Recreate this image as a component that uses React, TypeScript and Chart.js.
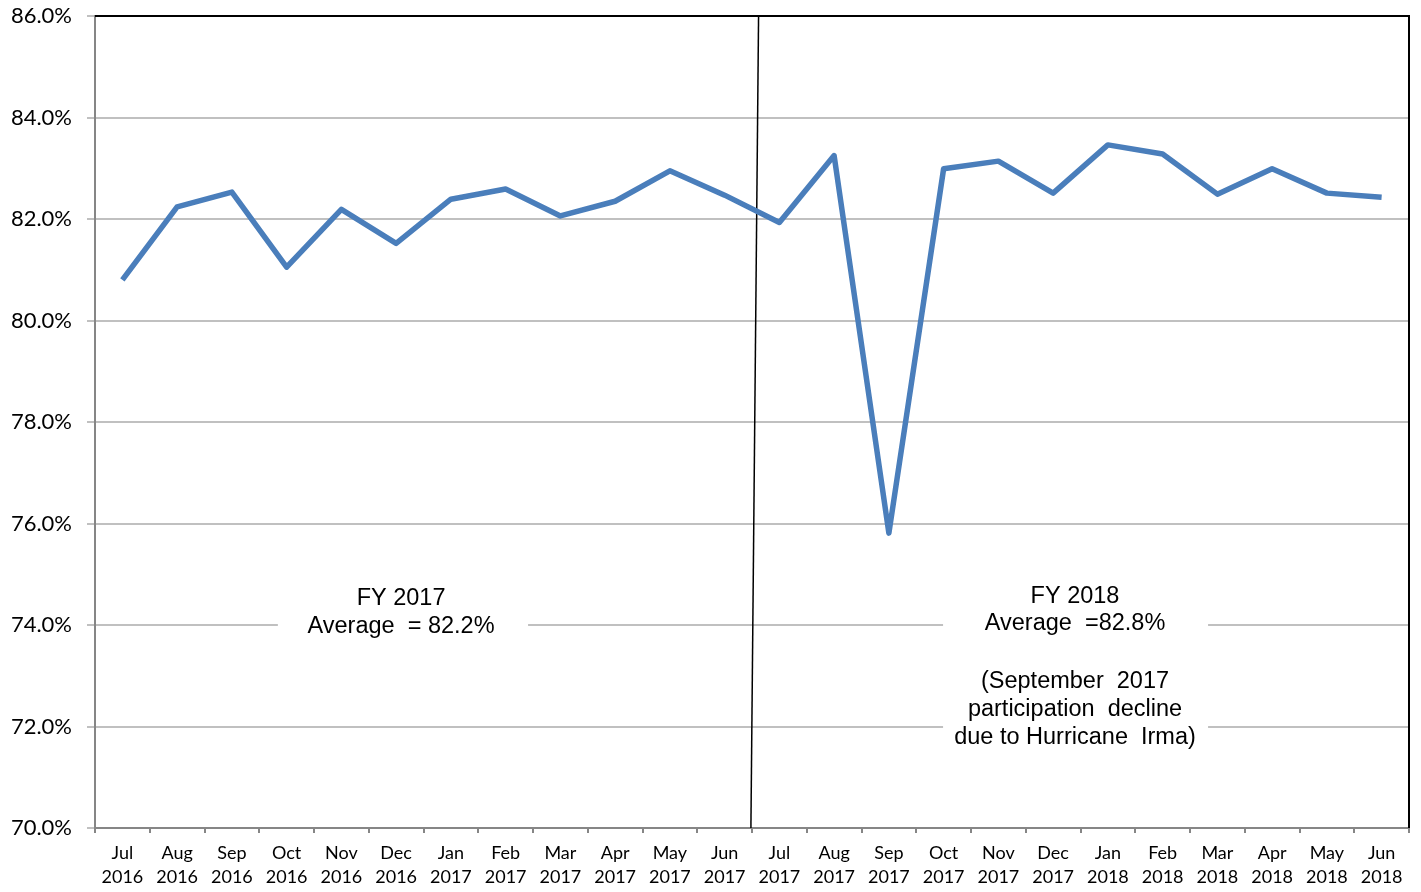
import React, { useEffect, useRef } from "react";
import { Chart, registerables } from "chart.js";

Chart.register(...registerables);

const MONTHS = ["Jul", "Aug", "Sep", "Oct", "Nov", "Dec", "Jan", "Feb", "Mar", "Apr", "May", "Jun",
  "Jul", "Aug", "Sep", "Oct", "Nov", "Dec", "Jan", "Feb", "Mar", "Apr", "May", "Jun"];
const YEARS = ["2016", "2016", "2016", "2016", "2016", "2016", "2017", "2017", "2017", "2017", "2017", "2017",
  "2017", "2017", "2017", "2017", "2017", "2017", "2018", "2018", "2018", "2018", "2018", "2018"];
const PARTICIPATION = [80.8, 82.24, 82.53, 81.05, 82.19, 81.52, 82.39, 82.59, 82.06, 82.35, 82.95, 82.47,
  81.93, 83.25, 75.81, 82.99, 83.14, 82.51, 83.46, 83.28, 82.49, 82.99, 82.51, 82.43];
const Y_MIN = 70;
const Y_MAX = 86;
const Y_STEP = 2;

const FY2017_LINES = ["FY 2017", "Average  = 82.2%"];
const FY2017_LINE_VALUES = [74.52, 73.97];
const FY2017_CENTER = 5.09;
const FY2017_BOX = { x0: 2.84, x1: 7.41, y0: 74.9, y1: 73.6 };

const FY2018_LINES = ["FY 2018", "Average  =82.8%", "", "(September  2017", "participation  decline", "due to Hurricane  Irma)"];
const FY2018_LINE_VALUES = [74.57, 74.02, 73.45, 72.88, 72.33, 71.78];
const FY2018_CENTER = 17.4;
const FY2018_BOX = { x0: 14.99, x1: 19.83, y0: 74.9, y1: 71.4 };

const DIVIDER_TOP = 11.62;
const DIVIDER_BOTTOM = 11.48;

const overlayPlugin = {
  id: "overlay",
  beforeDatasetsDraw(chart: any) {
    const { ctx, scales } = chart;
    const x = scales.x;
    const y = scales.y;
    const drawBlock = (box: any, lines: string[], vals: number[], center: number) => {
      ctx.save();
      ctx.fillStyle = "#ffffff";
      const bx0 = x.getPixelForValue(box.x0);
      const bx1 = x.getPixelForValue(box.x1);
      const by0 = y.getPixelForValue(box.y0);
      const by1 = y.getPixelForValue(box.y1);
      ctx.fillRect(bx0, by0, bx1 - bx0, by1 - by0);
      ctx.fillStyle = "#000000";
      ctx.font = "23.5px 'Liberation Sans', Arial, sans-serif";
      ctx.textAlign = "center";
      ctx.textBaseline = "middle";
      const cx = x.getPixelForValue(center);
      lines.forEach((t, i) => {
        if (t) ctx.fillText(t, cx, y.getPixelForValue(vals[i]));
      });
      ctx.restore();
    };
    drawBlock(FY2017_BOX, FY2017_LINES, FY2017_LINE_VALUES, FY2017_CENTER);
    drawBlock(FY2018_BOX, FY2018_LINES, FY2018_LINE_VALUES, FY2018_CENTER);

    ctx.save();
    ctx.strokeStyle = "#000000";
    ctx.lineWidth = 1.5;
    ctx.beginPath();
    ctx.moveTo(x.getPixelForValue(DIVIDER_TOP), y.getPixelForValue(Y_MAX));
    ctx.lineTo(x.getPixelForValue(DIVIDER_BOTTOM), y.getPixelForValue(Y_MIN));
    ctx.stroke();
    ctx.restore();
  },
  afterDraw(chart: any) {
    const { ctx, chartArea } = chart;
    ctx.save();
    ctx.strokeStyle = "#000000";
    ctx.lineWidth = 2;
    ctx.beginPath();
    ctx.moveTo(chartArea.left, chartArea.top);
    ctx.lineTo(chartArea.right, chartArea.top);
    ctx.lineTo(chartArea.right, chartArea.bottom);
    ctx.stroke();
    ctx.restore();
  },
};

export default function App() {
  const ref = useRef<HTMLCanvasElement | null>(null);
  useEffect(() => {
    if (!ref.current) return;
    const labels = MONTHS.map((m, i) => [m, YEARS[i]]);
    const chart = new Chart(ref.current, {
      type: "line",
      data: {
        labels,
        datasets: [
          {
            data: PARTICIPATION,
            borderColor: "#4a7ebb",
            borderWidth: 5.5,
            pointRadius: 0,
            tension: 0,
            fill: false,
            borderJoinStyle: "round",
          },
        ],
      },
      options: {
        animation: false,
        responsive: true,
        maintainAspectRatio: false,
        layout: { padding: { left: 0, right: 12, top: 16, bottom: 0 } },
        plugins: { legend: { display: false }, tooltip: { enabled: false } },
        scales: {
          x: {
            type: "category",
            offset: true,
            grid: {
              offset: true,
              drawOnChartArea: false,
              drawTicks: true,
              tickLength: 5,
              color: "#868686",
              lineWidth: 2,
            },
            border: { color: "#868686", width: 2 },
            ticks: {
              color: "#000000",
              font: { family: "Lato, 'Open Sans', sans-serif", size: 18, lineHeight: 1.33 },
              padding: 8,
              maxRotation: 0,
              autoSkip: false,
            },
            afterFit(scale: any) {
              scale.height = 64;
              scale.paddingLeft = 0;
              scale.paddingRight = 0;
            },
          },
          y: {
            min: Y_MIN,
            max: Y_MAX,
            grid: { color: "#c0c0c0", lineWidth: 2, tickLength: 8, drawTicks: true },
            border: { color: "#868686", width: 2 },
            ticks: {
              stepSize: Y_STEP,
              color: "#000000",
              padding: 15,
              font: { family: "Lato, 'Open Sans', sans-serif", size: 22 },
              callback: (v: any) => Number(v).toFixed(1) + "%",
            },
            afterFit(scale: any) {
              scale.width = 95;
              scale.paddingTop = 0;
              scale.paddingBottom = 0;
            },
          },
        },
      },
      plugins: [overlayPlugin],
    } as any);
    return () => chart.destroy();
  }, []);
  return (
    <div style={{ position: "fixed", left: 0, top: 0, width: 1421, height: 892, background: "#fff" }}>
      <canvas ref={ref} />
    </div>
  );
}
